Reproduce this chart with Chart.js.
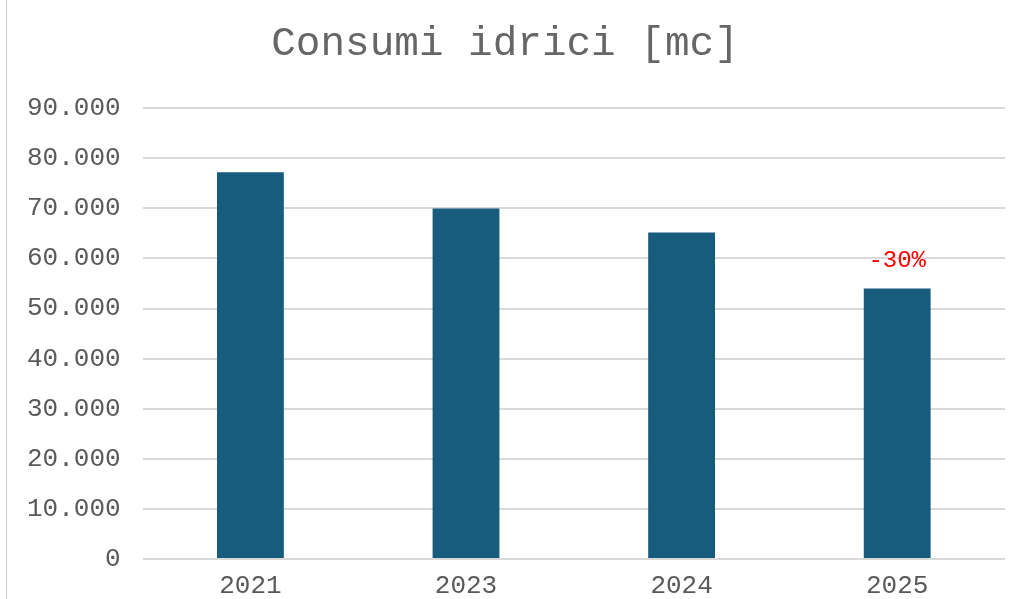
<!DOCTYPE html>
<html><head><meta charset="utf-8">
<script src="https://cdn.jsdelivr.net/npm/chart.js@4/dist/chart.umd.min.js"></script>
<style>
html,body{margin:0;padding:0;background:#fff;}
#wrap{position:relative;width:1017px;height:599px;}
#frame{position:absolute;left:6px;top:0;width:1px;height:599px;background:#d0d0d0;}
canvas{display:block;}
</style></head>
<body>
<div id="wrap"><div id="frame"></div><canvas id="c" width="1017" height="599"></canvas></div>
<script>
const categories = ["2021", "2023", "2024", "2025"];
const consumi = [77200, 70000, 65200, 54000];
const barLabels = ["", "", "", "-30%"];
const yMin = 0, yMax = 90000, yStep = 10000;
const chartTitle = "Consumi idrici [mc]";

const fontFamily = "'Courier New', 'Liberation Mono', monospace";

const labelPlugin = {
  id: 'barLabels',
  afterDatasetsDraw(chart) {
    const ctx = chart.ctx;
    const meta = chart.getDatasetMeta(0);
    ctx.save();
    ctx.font = "24px " + fontFamily;
    ctx.fillStyle = "#ff0000";
    ctx.textAlign = "center";
    ctx.textBaseline = "middle";
    meta.data.forEach((bar, i) => {
      if (barLabels[i]) ctx.fillText(barLabels[i], bar.x, bar.y - 28);
    });
    ctx.restore();
  }
};

new Chart(document.getElementById('c'), {
  type: 'bar',
  data: {
    labels: categories,
    datasets: [{
      data: consumi,
      backgroundColor: '#175c7c',
      borderWidth: 0,
      barPercentage: 0.62,
      categoryPercentage: 0.5
    }]
  },
  options: {
    responsive: false,
    animation: false,
    devicePixelRatio: 1,
    layout: { padding: { left: 5, right: 12, top: 0, bottom: -14 } },
    plugins: {
      legend: { display: false },
      tooltip: { enabled: false },
      title: {
        display: true,
        text: chartTitle,
        color: '#666666',
        font: { family: fontFamily, size: 41, weight: 'normal', lineHeight: 1.2 },
        padding: { top: 20, bottom: 39 }
      }
    },
    scales: {
      x: {
        grid: { display: false, drawTicks: false },
        border: { display: false },
        ticks: { color: '#595959', font: { family: fontFamily, size: 26, lineHeight: 1.0 }, padding: 14 }
      },
      y: {
        min: yMin, max: yMax,
        grid: { color: '#d9d9d9', lineWidth: 2, drawTicks: false },
        border: { display: false },
        ticks: {
          stepSize: yStep,
          color: '#595959',
          padding: 22,
          font: { family: fontFamily, size: 26 },
          callback: v => v === 0 ? '0' : v.toLocaleString('it-IT').replace(',', '.')
        }
      }
    }
  },
  plugins: [labelPlugin]
});
</script>
</body></html>
